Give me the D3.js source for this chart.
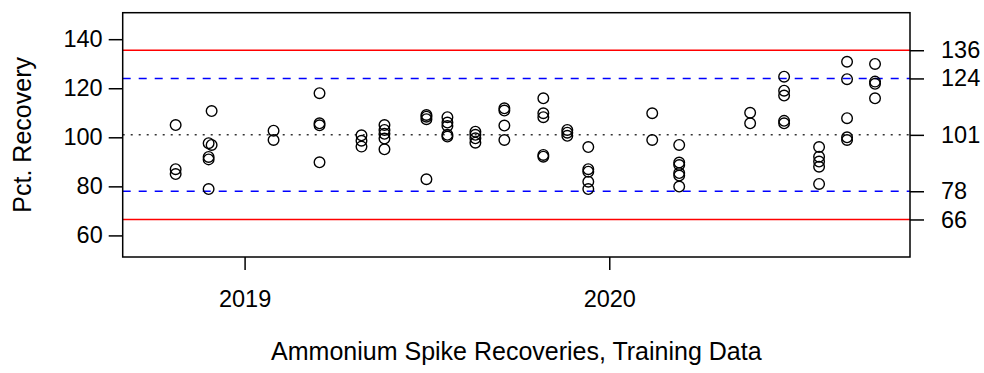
<!DOCTYPE html>
<html>
<head>
<meta charset="utf-8">
<script src="https://cdn.jsdelivr.net/npm/d3@7"></script>
<style>
  html, body { margin: 0; padding: 0; background: #fff; }
  svg { display: block; }
  text { font-family: "Liberation Sans", Arial, sans-serif; fill: #000; }
</style>
</head>
<body>
<svg id="chart" width="984" height="373"></svg>
<script>
// ---- data ----
const dates = [
  "2018-10-24","2018-10-24","2018-10-24",
  "2018-11-26","2018-11-26","2018-11-26","2018-11-26",
  "2018-11-29","2018-11-29",
  "2019-01-30","2019-01-30",
  "2019-03-17","2019-03-17","2019-03-17","2019-03-17",
  "2019-04-28","2019-04-28","2019-04-28",
  "2019-05-21","2019-05-21","2019-05-21","2019-05-21","2019-05-21",
  "2019-07-02","2019-07-02","2019-07-02","2019-07-02",
  "2019-07-23","2019-07-23","2019-07-23","2019-07-23","2019-07-23",
  "2019-08-20","2019-08-20","2019-08-20","2019-08-20",
  "2019-09-18","2019-09-18","2019-09-18","2019-09-18",
  "2019-10-27","2019-10-27","2019-10-27","2019-10-27","2019-10-27",
  "2019-11-20","2019-11-20","2019-11-20",
  "2019-12-11","2019-12-11","2019-12-11","2019-12-11","2019-12-11",
  "2020-02-13","2020-02-13",
  "2020-03-11","2020-03-11","2020-03-11","2020-03-11","2020-03-11","2020-03-11",
  "2020-05-21","2020-05-21",
  "2020-06-24","2020-06-24","2020-06-24","2020-06-24","2020-06-24",
  "2020-07-29","2020-07-29","2020-07-29","2020-07-29","2020-07-29",
  "2020-08-26","2020-08-26","2020-08-26","2020-08-26","2020-08-26",
  "2020-09-23","2020-09-23","2020-09-23","2020-09-23"
];
const recovery = [
  105, 87, 85,
  97.6, 92, 91, 78.9,
  110.7, 96.9,
  102.7, 98.9,
  118, 105.7, 104.9, 89.8,
  100.8, 98.6, 96.2,
  105, 103, 101.4, 99.5, 95.1,
  109.1, 108.4, 107.4, 82.9,
  108.2, 106, 104.6, 101, 100.3,
  102.3, 101, 99.6, 97.8,
  111.8, 110.9, 104.8, 98.9,
  115.9, 109.8, 108.2, 92.8, 92.1,
  103, 101.9, 100.6,
  96, 87, 86, 81.9, 78.9,
  109.8, 98.9,
  96.9, 89.7, 88.7, 85.4, 84.4, 79.9,
  110, 105.7,
  124.7, 119, 117, 106.7, 105.7,
  96, 92.1, 90.1, 88, 81,
  130.8, 123.7, 107.8, 100, 98.9,
  129.9, 122.7, 121.8, 115.9
];
const yTicks = [60, 80, 100, 120, 140];
const xTickDates = ["2019-01-01", "2020-01-01"];
const xTickLabels = ["2019", "2020"];
const limitValues = [135.5, 124, 101, 78, 66.5];
const limitLabels = ["136", "124", "101", "78", "66"];
const limitKinds = ["control", "warning", "center", "warning", "control"];
const xLabel = "Ammonium Spike Recoveries, Training Data";
const yLabel = "Pct. Recovery";

// ---- layout ----
const L = 122.7, R = 910, T = 12.7, B = 257;
const FS = 23.5, FST = 25;
const parse = d3.utcParse("%Y-%m-%d");

const x = d3.scaleUtc()
  .domain([parse("2018-09-01"), parse("2020-10-28")])
  .range([L, R]);
const y = d3.scaleLinear().domain([51.2, 150.8]).range([B, T]);

const svg = d3.select("#chart");

const styleFor = {
  control: { stroke: "#ff0000", dash: null, width: 1.5 },
  warning: { stroke: "#0000ff", dash: "8,8", width: 1.5 },
  center:  { stroke: "#333333", dash: "2,6", width: 1.5 }
};

// limit lines
svg.append("g").selectAll("line")
  .data(limitValues.map((v, i) => ({ v, k: limitKinds[i] })))
  .join("line")
  .attr("x1", L).attr("x2", R)
  .attr("y1", d => y(d.v)).attr("y2", d => y(d.v))
  .attr("stroke", d => styleFor[d.k].stroke)
  .attr("stroke-width", d => styleFor[d.k].width)
  .attr("stroke-dasharray", d => styleFor[d.k].dash);

// points
svg.append("g").selectAll("circle")
  .data(dates.map((d, i) => ({ d: parse(d), v: recovery[i] })))
  .join("circle")
  .attr("cx", d => x(d.d))
  .attr("cy", d => y(d.v))
  .attr("r", 5.3)
  .attr("fill", "none")
  .attr("stroke", "#000")
  .attr("stroke-width", 1.4);

// box
svg.append("rect")
  .attr("x", L).attr("y", T)
  .attr("width", R - L).attr("height", B - T)
  .attr("fill", "none").attr("stroke", "#000").attr("stroke-width", 1.5);

function styleAxis(g) {
  g.select(".domain").remove();
  g.selectAll(".tick line").attr("stroke", "#000").attr("stroke-width", 1.5);
  g.selectAll(".tick text")
    .attr("font-size", FS)
    .attr("font-family", "'Liberation Sans', Arial, sans-serif")
    .attr("fill", "#000");
}

// left axis
svg.append("g")
  .attr("transform", `translate(${L},0)`)
  .call(d3.axisLeft(y).tickValues(yTicks).tickSize(14).tickPadding(6).tickFormat(d3.format("d")))
  .call(styleAxis);

// bottom axis
svg.append("g")
  .attr("transform", `translate(0,${B})`)
  .call(d3.axisBottom(x).tickValues(xTickDates.map(parse)).tickSize(13).tickPadding(20)
    .tickFormat((d, i) => xTickLabels[i]))
  .call(styleAxis);

// right axis
svg.append("g")
  .attr("transform", `translate(${R},0)`)
  .call(d3.axisRight(y).tickValues(limitValues).tickSize(14).tickPadding(17)
    .tickFormat((d, i) => limitLabels[i]))
  .call(styleAxis);

// axis titles
svg.append("text")
  .attr("transform", `translate(31,${(T + B) / 2}) rotate(-90)`)
  .attr("text-anchor", "middle")
  .attr("font-size", FST)
  .text(yLabel);

svg.append("text")
  .attr("x", (L + R) / 2).attr("y", 360)
  .attr("text-anchor", "middle")
  .attr("font-size", FST)
  .text(xLabel);
</script>
</body>
</html>
